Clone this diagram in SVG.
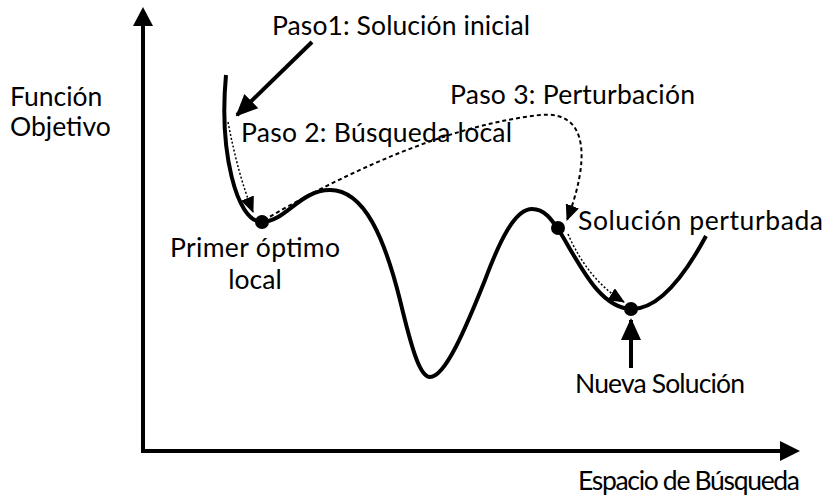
<svg xmlns="http://www.w3.org/2000/svg" width="825" height="495" viewBox="0 0 825 495">
<style>
text{font-family:Lato,"Open Sans",sans-serif;font-size:26.5px;fill:#000}
.ax{stroke:#000;stroke-width:4;fill:none}
.curve{stroke:#000;stroke-width:4;fill:none}
.big{stroke:#000;stroke-width:4;fill:none}
.dot{stroke:#000;stroke-width:1.5;stroke-dasharray:2 2;fill:none}
.dash{stroke:#000;stroke-width:2;stroke-dasharray:4 3;fill:none}
</style>
<defs>
<marker id="ah" markerUnits="userSpaceOnUse" markerWidth="22" markerHeight="22" viewBox="0 0 22 22" refX="20" refY="11" orient="auto">
<path d="M0,1 L22,11 L0,21 Z" fill="#000"/>
</marker>
<marker id="as" markerUnits="userSpaceOnUse" markerWidth="16" markerHeight="14" viewBox="0 0 16 14" refX="15" refY="7" orient="auto">
<path d="M0,0 L16,7 L0,14 Z" fill="#000"/>
</marker>
</defs>
<g id="axes">
<path class="ax" d="M143,452 L143,26" />
<path d="M133,26 L143,7 L153,26 Z" fill="#000"/>
<path class="ax" d="M141,451 L780,451" />
<path d="M780,441 L800,451 L780,461 Z" fill="#000"/>
</g>
<g id="curve">
<path class="curve" d="M226,75 C219,150 236,222 262,222 C285,222 300,190 330,190 C365,190 385,240 400,300 C412,350 420,377 430,377 C445,377 465,330 485,280 C500,240 515,209 532,209 C545,209 552,220 560,232 C580,265 600,309 632,309 C660,309 685,275 706,236"/>
</g>
<g id="connectors">
<path class="big" d="M312,42 L237,115" marker-end="url(#ah)"/>
<path class="dot" d="M228,122 Q238,175 253,212" marker-end="url(#as)"/>
<path class="dash" d="M264,220 C350,170 450,125 540,115 C592,110 588,165 567,220" marker-end="url(#as)"/>
<path class="dot" d="M568,234 Q588,280 624,302" marker-end="url(#as)"/>
<path class="big" d="M631,368 L631,320" marker-end="url(#ah)"/>
</g>
<g id="p1"><circle cx="262" cy="222" r="7"/></g>
<g id="p2"><circle cx="558" cy="228" r="7"/></g>
<g id="p3"><circle cx="631" cy="309" r="7"/></g>
<g id="labels">
<text x="272" y="35" textLength="258">Paso1: Solución inicial</text>
<text x="10" y="106">Función</text>
<text x="10" y="136">Objetivo</text>
<text x="450" y="104" textLength="245">Paso 3: Perturbación</text>
<text x="241" y="142" textLength="271">Paso 2: Búsqueda local</text>
<text x="170" y="257" textLength="170">Primer óptimo</text>
<text x="255" y="289" text-anchor="middle">local</text>
<text x="578" y="230" textLength="245">Solución perturbada</text>
<text x="575" y="393" textLength="170">Nueva Solución</text>
<text x="578" y="490" textLength="222">Espacio de Búsqueda</text>
</g>
</svg>
